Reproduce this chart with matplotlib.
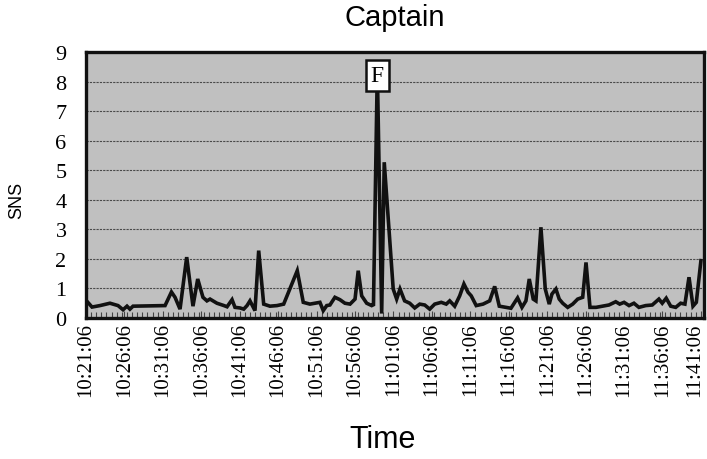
import matplotlib
matplotlib.use("Agg")
import matplotlib.pyplot as plt
import matplotlib.transforms as mtransforms
from matplotlib.ticker import MultipleLocator, FixedLocator

# seconds after 10:21:06 and the SNS value
elapsed_s = [0, 47, 109, 187, 250, 289, 320, 343, 367, 617, 667, 695, 734, 786,
             835, 872, 913, 944, 968, 1022, 1077, 1101, 1140, 1163, 1202, 1231,
             1257, 1280, 1319, 1348, 1387, 1436, 1491, 1543, 1649, 1696, 1748,
             1826, 1852, 1879, 1904, 1943, 1982, 2021, 2061, 2100, 2125, 2152,
             2191, 2230, 2244, 2274, 2308, 2328, 2398, 2425, 2451, 2487, 2527,
             2566, 2605, 2644, 2683, 2722, 2773, 2812, 2839, 2878, 2917, 2950,
             2982, 3007, 3046, 3099, 3151, 3190, 3226, 3278, 3317, 3369, 3403,
             3434, 3460, 3491, 3512, 3551, 3585, 3616, 3637, 3668, 3694, 3721,
             3760, 3799, 3838, 3877, 3903, 3934, 3981, 4082, 4135, 4166, 4200,
             4239, 4277, 4316, 4369, 4420, 4472, 4498, 4529, 4564, 4603, 4642,
             4675, 4707, 4738, 4764, 4800]
sns_vals = [0.6, 0.37, 0.42, 0.5, 0.42, 0.28, 0.4, 0.3, 0.4, 0.42, 0.88, 0.7,
            0.3, 2.06, 0.4, 1.32, 0.7, 0.58, 0.64, 0.5, 0.42, 0.38, 0.62, 0.36,
            0.34, 0.3, 0.42, 0.58, 0.25, 2.28, 0.47, 0.4, 0.42, 0.47, 1.6, 0.53,
            0.47, 0.53, 0.25, 0.42, 0.44, 0.7, 0.62, 0.5, 0.47, 0.64, 1.6, 0.75,
            0.5, 0.42, 0.45, 8.4, 0.15, 5.27, 0.98, 0.64, 0.98, 0.58, 0.5, 0.34,
            0.47, 0.44, 0.3, 0.47, 0.53, 0.47, 0.58, 0.4, 0.75, 1.15, 0.87, 0.75,
            0.42, 0.47, 0.58, 1.07, 0.4, 0.36, 0.33, 0.68, 0.36, 0.58, 1.32,
            0.64, 0.58, 3.07, 0.98, 0.47, 0.81, 0.98, 0.64, 0.5, 0.36, 0.47,
            0.64, 0.7, 1.88, 0.36, 0.36, 0.44, 0.55, 0.47, 0.53, 0.42, 0.5, 0.36,
            0.42, 0.44, 0.64, 0.5, 0.67, 0.4, 0.36, 0.5, 0.47, 1.38, 0.4, 0.53,
            1.94]
tick_labels = ["10:21:06", "10:26:06", "10:31:06", "10:36:06", "10:41:06",
               "10:46:06", "10:51:06", "10:56:06", "11:01:06", "11:06:06",
               "11:11:06", "11:16:06", "11:21:06", "11:26:06", "11:31:06",
               "11:36:06", "11:41:06"]
event_label = "F"

minutes = [s / 60 for s in elapsed_s]
peak_i = sns_vals.index(max(sns_vals))

fig = plt.figure(figsize=(7.07, 4.6), dpi=100)
ax = fig.add_axes([86 / 707, 1 - 319 / 460, 618 / 707, 266 / 460])
ax.set_facecolor("#c0c0c0")

ax.plot(minutes, sns_vals, color="#111111", lw=2.6, solid_joinstyle="miter", zorder=3)

ax.set_xlim(0, 80.4)
ax.set_ylim(0, 9)
ax.xaxis.set_major_locator(FixedLocator([5 * i for i in range(len(tick_labels))]))
ax.set_xticklabels(tick_labels, rotation=90, family="Liberation Serif", fontsize=15)
ax.xaxis.set_minor_locator(MultipleLocator(2 / 3))
ax.tick_params(axis="x", which="both", direction="in", color="#444444", pad=3)
ax.tick_params(axis="x", which="major", length=5)
ax.tick_params(axis="x", which="minor", length=4, width=0.8)

# keep the last label inside the figure edge
last = ax.get_xticklabels()[-1]
last.set_transform(last.get_transform() + mtransforms.ScaledTranslation(-6 / 100, 0, fig.dpi_scale_trans))

ax.set_yticks(range(10))
ax.set_yticklabels([str(i) for i in range(10)], family="Liberation Serif", fontsize=16)
ax.tick_params(axis="y", length=0, pad=14)

ax.grid(axis="y", color="#4a4a4a", lw=0.8, ls=(0, (2, 1)))
ax.set_axisbelow(True)
for sp in ax.spines.values():
    sp.set_linewidth(2.4)
    sp.set_color("#111111")

ax.text(minutes[peak_i], 8.2, event_label, ha="center", va="center",
        family="Liberation Serif", fontsize=17, zorder=5,
        bbox=dict(boxstyle="square,pad=0.22", fc="white", ec="#111111", lw=1.8))

fig.text(395 / 707, 1 - 18 / 460, "Captain", ha="center", va="center",
         family="Liberation Sans", fontsize=21)
fig.text(383 / 707, 1 - 440 / 460, "Time", ha="center", va="center",
         family="Liberation Sans", fontsize=22)
fig.text(17 / 707, 1 - 200 / 460, "SNS", ha="center", va="center", rotation=90,
         family="Liberation Sans", fontsize=13)

fig.savefig("out.png", dpi=100)
